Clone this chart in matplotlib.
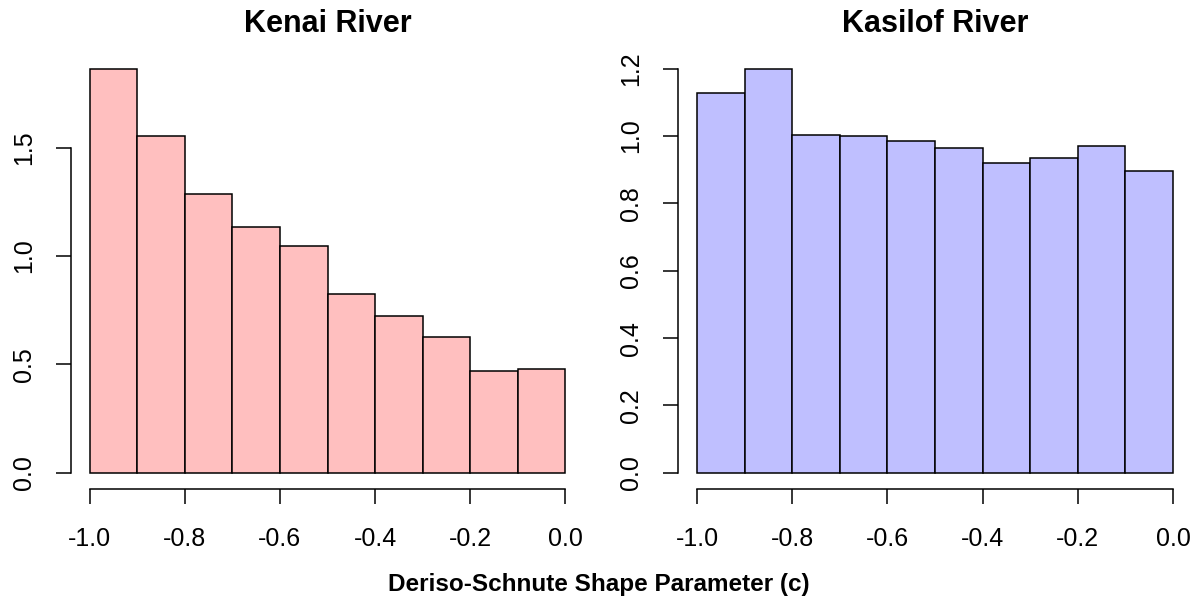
import matplotlib
matplotlib.use("Agg")
import matplotlib.pyplot as plt

plt.rcParams['font.family'] = ['Liberation Sans', 'DejaVu Sans']
plt.rcParams['axes.unicode_minus'] = False

# bins of the shape parameter c
bin_left = [-1.0, -0.9, -0.8, -0.7, -0.6, -0.5, -0.4, -0.3, -0.2, -0.1]
bin_width = 0.1

# densities
kenai = [1.864, 1.552, 1.285, 1.135, 1.046, 0.826, 0.722, 0.625, 0.471, 0.477]
kasilof = [1.129, 1.200, 1.002, 0.999, 0.986, 0.965, 0.921, 0.935, 0.970, 0.897]

x_ticks = [-1.0, -0.8, -0.6, -0.4, -0.2, 0.0]
kenai_yticks = [0.0, 0.5, 1.0, 1.5]
kasilof_yticks = [0.0, 0.2, 0.4, 0.6, 0.8, 1.0, 1.2]

W, H = 1197, 598
fig = plt.figure(figsize=(W / 100, H / 100), dpi=100)


def panel(left_px, dens, yticks, color, title):
    # plot region in pixels, R style 4% padding around the data range
    ax = fig.add_axes([left_px / W, (H - 489) / H, 514 / W, (489 - 52.5) / H])
    ax.bar(bin_left, dens, width=bin_width, align='edge', color=color,
           edgecolor='black', linewidth=1.1)
    ymax = max(dens)
    ax.set_xlim(-1.04, 0.04)
    ax.set_ylim(-0.04 * ymax, 1.04 * ymax)

    for s in ['top', 'right']:
        ax.spines[s].set_visible(False)
    ax.spines['left'].set_bounds(yticks[0], yticks[-1])
    ax.spines['bottom'].set_bounds(x_ticks[0], x_ticks[-1])
    for s in ['left', 'bottom']:
        ax.spines[s].set_linewidth(1.1)

    ax.set_xticks(x_ticks)
    ax.set_xticklabels(['%.1f' % v for v in x_ticks])
    ax.set_yticks(yticks)
    ax.set_yticklabels(['%.1f' % v for v in yticks], rotation=90, va='center')
    ax.tick_params(length=11, width=1.1, labelsize=18)
    ax.tick_params(axis='x', pad=16)
    ax.tick_params(axis='y', pad=14)
    ax.set_title(title, fontsize=22, fontweight='bold', pad=14.8)
    return ax


panel(70.5, kenai, kenai_yticks, '#FFBFBF', 'Kenai River')
panel(678, kasilof, kasilof_yticks, '#BFBFFF', 'Kasilof River')

fig.text(0.5, (H - 591) / H, 'Deriso-Schnute Shape Parameter (c)',
         ha='center', va='baseline', fontsize=17.5, fontweight='bold')

fig.savefig('out.png', dpi=100)
